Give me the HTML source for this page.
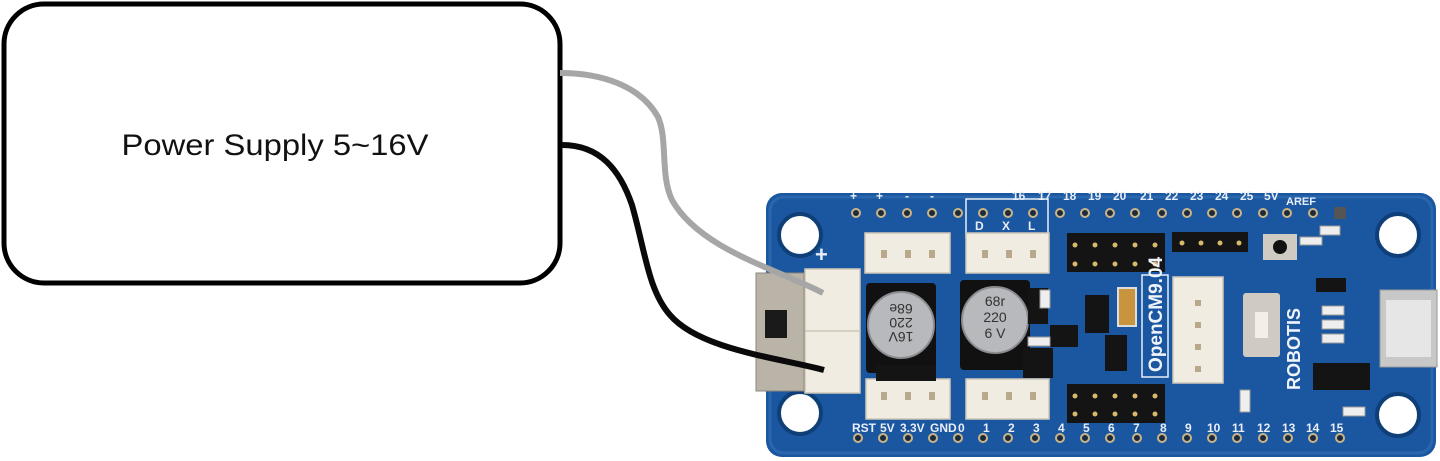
<!DOCTYPE html>
<html><head><meta charset="utf-8"><style>
html,body{margin:0;padding:0;background:#fff;}
svg{display:block}
</style></head><body>
<svg width="1440" height="461" viewBox="0 0 1440 461" xmlns="http://www.w3.org/2000/svg" font-family="Liberation Sans, sans-serif">
<rect x="4" y="4" width="556" height="279" rx="40" fill="#fff" stroke="#000" stroke-width="5"/>
<text x="275" y="155" font-size="30" text-anchor="middle" fill="#111" textLength="307" lengthAdjust="spacingAndGlyphs">Power Supply 5~16V</text>
<!-- board -->
<rect x="766" y="193" width="670" height="264" rx="16" fill="#1b56a0"/>
<rect x="770" y="197" width="662" height="256" rx="14" fill="none" stroke="#2a66ad" stroke-width="3"/>
<!-- holes -->
<g fill="#fff" stroke="#0f3f78" stroke-width="4">
<circle cx="800" cy="235" r="21"/><circle cx="800" cy="413" r="21"/>
<circle cx="1398" cy="235" r="21"/><circle cx="1398" cy="415" r="21"/>
</g>
<!-- pins -->
<g fill="#1e2a3a" stroke="#c9b58a" stroke-width="2">
<circle cx="856" cy="213" r="4"/><circle cx="881" cy="213" r="4"/><circle cx="907" cy="213" r="4"/><circle cx="932" cy="213" r="4"/><circle cx="958" cy="213" r="4"/><circle cx="983" cy="213" r="4"/>
<circle cx="1008" cy="213" r="4"/><circle cx="1033" cy="213" r="4"/><circle cx="1060" cy="213" r="4"/><circle cx="1085" cy="213" r="4"/><circle cx="1110" cy="213" r="4"/><circle cx="1135" cy="213" r="4"/><circle cx="1162" cy="213" r="4"/><circle cx="1187" cy="213" r="4"/><circle cx="1212" cy="213" r="4"/><circle cx="1237" cy="213" r="4"/><circle cx="1263" cy="213" r="4"/><circle cx="1287" cy="213" r="4"/><circle cx="1313" cy="213" r="4"/>
<circle cx="858" cy="438" r="4"/><circle cx="883" cy="438" r="4"/><circle cx="908" cy="438" r="4"/><circle cx="933" cy="438" r="4"/><circle cx="958" cy="438" r="4"/><circle cx="983" cy="438" r="4"/><circle cx="1008" cy="438" r="4"/><circle cx="1035" cy="438" r="4"/><circle cx="1060" cy="438" r="4"/><circle cx="1085" cy="438" r="4"/><circle cx="1110" cy="438" r="4"/><circle cx="1137" cy="438" r="4"/><circle cx="1162" cy="438" r="4"/><circle cx="1187" cy="438" r="4"/><circle cx="1212" cy="438" r="4"/><circle cx="1237" cy="438" r="4"/><circle cx="1263" cy="438" r="4"/><circle cx="1288" cy="438" r="4"/><circle cx="1313" cy="438" r="4"/><circle cx="1340" cy="438" r="4"/>
</g>
<rect x="1334" y="207" width="12" height="12" fill="#555"/>
<!-- labels -->
<g fill="#e8eef7" font-size="12" font-weight="bold">
<text x="1012" y="200">16</text><text x="1038" y="200">17</text><text x="1063" y="200">18</text><text x="1088" y="200">19</text><text x="1113" y="200">20</text><text x="1140" y="200">21</text><text x="1165" y="200">22</text><text x="1190" y="200">23</text><text x="1215" y="200">24</text><text x="1240" y="200">25</text><text x="1264" y="200">5V</text><text x="1286" y="205" font-size="11">AREF</text>
<text x="850" y="200">+</text><text x="876" y="200">+</text><text x="905" y="200">-</text><text x="930" y="200">-</text>
<text x="975" y="230">D</text><text x="1002" y="230">X</text><text x="1028" y="230">L</text>
<text x="852" y="432">RST</text><text x="880" y="432">5V</text><text x="900" y="432">3.3V</text><text x="930" y="432">GND</text>
<text x="958" y="432">0</text><text x="983" y="432">1</text><text x="1008" y="432">2</text><text x="1033" y="432">3</text><text x="1058" y="432">4</text><text x="1083" y="432">5</text><text x="1108" y="432">6</text><text x="1133" y="432">7</text><text x="1160" y="432">8</text><text x="1185" y="432">9</text><text x="1207" y="432">10</text><text x="1232" y="432">11</text><text x="1257" y="432">12</text><text x="1282" y="432">13</text><text x="1306" y="432">14</text><text x="1330" y="432">15</text>
<text x="815" y="262" font-size="22">+</text>
</g>
<rect x="966" y="199" width="82" height="38" fill="none" stroke="#e8eef7" stroke-width="1.5"/>
<!-- white connectors -->
<g fill="#f1ece2" stroke="#cfc8b8" stroke-width="1.5">
<rect x="865" y="233" width="85" height="40"/><rect x="966" y="233" width="83" height="40"/>
<rect x="866" y="379" width="84" height="40"/><rect x="966" y="379" width="83" height="40"/>
<rect x="805" y="269" width="55" height="62"/><rect x="805" y="331" width="55" height="62"/>
<rect x="1173" y="277" width="50" height="106"/>
</g>
<g fill="#b8a98c">
<rect x="881" y="250" width="6" height="8"/><rect x="905" y="250" width="6" height="8"/><rect x="929" y="250" width="6" height="8"/>
<rect x="982" y="250" width="6" height="8"/><rect x="1006" y="250" width="6" height="8"/><rect x="1030" y="250" width="6" height="8"/>
<rect x="881" y="392" width="6" height="8"/><rect x="905" y="392" width="6" height="8"/><rect x="929" y="392" width="6" height="8"/>
<rect x="982" y="392" width="6" height="8"/><rect x="1006" y="392" width="6" height="8"/><rect x="1030" y="392" width="6" height="8"/>
<rect x="1195" y="300" width="6" height="6"/><rect x="1195" y="322" width="6" height="6"/><rect x="1195" y="344" width="6" height="6"/><rect x="1195" y="366" width="6" height="6"/>
</g>
<!-- switch -->
<rect x="756" y="273" width="48" height="118" fill="#b9b3a8" stroke="#8d877c"/>
<rect x="765" y="310" width="22" height="28" fill="#1a1a1a"/>
<!-- capacitors -->
<rect x="866" y="283" width="70" height="90" fill="#111" rx="4"/>
<rect x="960" y="280" width="70" height="90" fill="#111" rx="4"/>
<circle cx="901" cy="325" r="33" fill="#b7b9bc" stroke="#8a8c90" stroke-width="2"/>
<circle cx="995" cy="320" r="33" fill="#b7b9bc" stroke="#8a8c90" stroke-width="2"/>
<g fill="#333" font-size="14" text-anchor="middle">
<text x="901" y="318" transform="rotate(180 901 325)">16V</text><text x="901" y="332" transform="rotate(180 901 325)">220</text><text x="901" y="346" transform="rotate(180 901 325)">68e</text>
<text x="995" y="306">68r</text><text x="995" y="322">220</text><text x="995" y="338">6 V</text>
</g>
<!-- black parts -->
<g fill="#141414">
<rect x="876" y="365" width="60" height="16"/>
<rect x="1028" y="288" width="20" height="36"/><rect x="1050" y="325" width="28" height="22"/><rect x="1085" y="295" width="24" height="38"/>
<rect x="1105" y="335" width="22" height="36"/><rect x="1023" y="348" width="30" height="30"/>
<rect x="1313" y="363" width="57" height="27"/><rect x="1316" y="278" width="30" height="14"/>
<rect x="1067" y="233" width="98" height="39"/><rect x="1067" y="384" width="98" height="39"/><rect x="1172" y="232" width="76" height="20"/>
</g>
<g fill="#d8b86a">
<circle cx="1075" cy="245" r="2.5"/><circle cx="1095" cy="245" r="2.5"/><circle cx="1115" cy="245" r="2.5"/><circle cx="1135" cy="245" r="2.5"/><circle cx="1155" cy="245" r="2.5"/>
<circle cx="1075" cy="264" r="2.5"/><circle cx="1095" cy="264" r="2.5"/><circle cx="1115" cy="264" r="2.5"/><circle cx="1135" cy="264" r="2.5"/><circle cx="1155" cy="264" r="2.5"/>
<circle cx="1075" cy="396" r="2.5"/><circle cx="1095" cy="396" r="2.5"/><circle cx="1115" cy="396" r="2.5"/><circle cx="1135" cy="396" r="2.5"/><circle cx="1155" cy="396" r="2.5"/>
<circle cx="1075" cy="414" r="2.5"/><circle cx="1095" cy="414" r="2.5"/><circle cx="1115" cy="414" r="2.5"/><circle cx="1135" cy="414" r="2.5"/><circle cx="1155" cy="414" r="2.5"/>
<circle cx="1182" cy="243" r="2.5"/><circle cx="1201" cy="243" r="2.5"/><circle cx="1220" cy="243" r="2.5"/><circle cx="1239" cy="243" r="2.5"/>
</g>
<rect x="1118" y="288" width="18" height="38" fill="#c9943e" stroke="#ddd" stroke-width="2"/>
<rect x="1142" y="275" width="26" height="102" fill="none" stroke="#e8eef7" stroke-width="1.5"/>
<text x="1162" y="372" transform="rotate(-90 1162 372)" fill="#f0f4fa" font-size="19" font-weight="bold">OpenCM9.04</text>
<text x="1300" y="390" transform="rotate(-90 1300 390)" fill="#f0f4fa" font-size="18" font-weight="bold">ROBOTIS</text>
<rect x="1243" y="293" width="37" height="64" fill="#cfcac2" rx="3"/><rect x="1255" y="312" width="13" height="26" fill="#f3eee6"/>
<rect x="1263" y="234" width="34" height="26" fill="#cfcac2"/><circle cx="1280" cy="247" r="7" fill="#111"/>
<rect x="1380" y="290" width="57" height="77" fill="#c8c8c8" stroke="#999"/>
<rect x="1386" y="300" width="45" height="57" fill="#e6e6e6"/>
<g fill="#eee" stroke="#999">
<rect x="1322" y="306" width="22" height="9"/><rect x="1322" y="320" width="22" height="9"/><rect x="1322" y="334" width="22" height="9"/>
<rect x="1300" y="237" width="22" height="8"/><rect x="1320" y="226" width="20" height="9"/><rect x="1343" y="407" width="22" height="9"/>
<rect x="1040" y="290" width="10" height="18"/><rect x="1028" y="337" width="22" height="9"/><rect x="1240" y="390" width="10" height="22"/>
</g>
<!-- wires -->
<path d="M560 73 C600 73 640 85 658 117 C668 140 660 175 672 200 C700 250 780 270 823 293" fill="none" stroke="#a6a6a6" stroke-width="6"/>
<path d="M562 145 C600 145 620 170 632 205 C645 250 648 290 670 315 C700 350 780 358 824 370" fill="none" stroke="#0a0a0a" stroke-width="6"/>
</svg>
</body></html>
